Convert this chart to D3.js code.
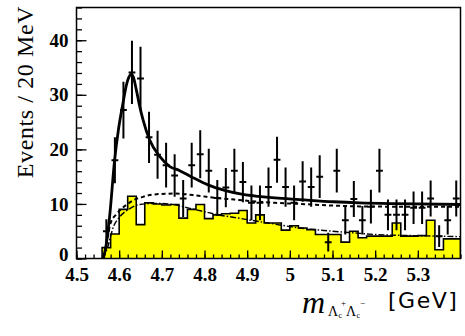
<!DOCTYPE html>
<html>
<head>
<meta charset="utf-8">
<script src="https://cdn.jsdelivr.net/npm/d3@7"></script>
<style>
body { margin: 0; background: #fff; }
svg { display: block; }
.axis text { font-family: "Liberation Serif", "Times New Roman", serif; font-weight: bold; font-size: 19px; fill: #000; }
.axis line { stroke: #000; stroke-width: 1.3; }
.axis path { display: none; }
</style>
</head>
<body>
<svg id="chart" width="465" height="336"></svg>
<script>
// 20 MeV bins, first bin starts at 4.56 GeV
var binStart = 4.56;
var binWidth = 0.02;

// data points (events per bin) and their error bars
var dataCounts = [5, 18, 27.2, 34.1, 33, 22.2, 19, 17.1, 15.2, 11, 17.1, 19.1, 16.1, 11.1, 13,
  16.1, 14, 10.2, 10.2, 13.1, 18.1, 13.1, 10.2, 14.1, 13.1, 15, 3, 16.1, 7, 10.9, 7, 9.5,
  16.1, 8, 8, 8, 9.3, 9.3, 11, 4.1, 7, 11];
var dataErrors = [2.2, 4.2, 5.2, 5.8, 5.8, 4.7, 4.4, 4.1, 3.9, 3.4, 4.1, 4.4, 4, 3.3, 3.6,
  4, 3.7, 3.2, 3.2, 3.6, 4.2, 3.6, 3.2, 3.7, 3.6, 3.9, 1.7, 4, 2.6, 3.3, 2.6, 3.1,
  4, 2.8, 2.8, 2.8, 3, 3, 3.3, 2, 2.6, 3.3];

// yellow histogram (same binning)
var bkgHist = [2, 4.5, 9, 11.4, 6.2, 10.2, 10, 9.8, 9.9, 7.4, 9, 9.9, 7.3, 8, 8.2,
  8.3, 8.8, 6.5, 8, 6.5, 6.5, 5.2, 6, 5.6, 5.3, 4.4, 4.4, 4.4, 3, 5, 3.8, 4.1,
  4.1, 4.1, 6.5, 4.1, 4.1, 4.2, 7, 1.6, 3.6, 3.6];

// fit curves: [mass, events]
var totalFit = [[4.562, 0], [4.568, 1.8], [4.578, 8], [4.589, 17.8], [4.599, 24], [4.609, 28.5],
  [4.617, 31.8], [4.623, 33.3], [4.628, 33.8], [4.633, 33.3], [4.64, 31], [4.647, 28.3],
  [4.656, 25.4], [4.671, 21.8], [4.695, 18.7], [4.718, 16.9], [4.742, 16.1], [4.769, 15],
  [4.808, 13.5], [4.847, 12.5], [4.887, 11.8], [4.926, 11.4], [4.965, 11.1], [5.023, 10.8],
  [5.102, 10.4], [5.164, 10.2], [5.25, 10.05], [5.4, 9.9]];
var bkgFit = [[4.564, 0], [4.572, 3.5], [4.58, 6.5], [4.592, 8], [4.604, 9], [4.62, 10],
  [4.636, 10.8], [4.656, 11.3], [4.676, 11.7], [4.731, 11.9], [4.786, 11.5], [4.825, 11.1],
  [4.87, 10.8], [4.926, 10.4], [4.965, 10.2], [5.023, 10], [5.1, 9.7], [5.164, 9.55],
  [5.25, 9.5], [5.4, 9.5]];
var sideFit = [[4.562, 0], [4.571, 1.6], [4.587, 5.9], [4.602, 7.7], [4.622, 9], [4.648, 9.9],
  [4.687, 10.1], [4.734, 9.8], [4.77, 9.1], [4.81, 8.4], [4.832, 8], [4.872, 7.5],
  [4.91, 7], [4.949, 6.5], [5.023, 5.6], [5.1, 5], [5.149, 4.7], [5.2, 4.4], [5.29, 4.2],
  [5.4, 4]];

var xTicks = [4.5, 4.6, 4.7, 4.8, 4.9, 5, 5.1, 5.2, 5.3];
var yTicks = [0, 10, 20, 30, 40];

var svg = d3.select("#chart");
var x = d3.scaleLinear().domain([4.5, 5.4]).range([76.5, 460.5]);
var y = d3.scaleLinear().domain([0, 46]).range([258.5, 7.5]);

svg.append("defs").append("clipPath").attr("id", "plotclip")
  .append("rect").attr("x", x(4.5)).attr("y", y(46))
  .attr("width", x(5.4) - x(4.5)).attr("height", y(0) - y(46));

var plot = svg.append("g").attr("clip-path", "url(#plotclip)");

// yellow histogram as a step outline
var histPts = [[binStart, 0]];
bkgHist.forEach(function(v, i) {
  histPts.push([binStart + i * binWidth, v]);
  histPts.push([binStart + (i + 1) * binWidth, v]);
});
histPts.push([binStart + bkgHist.length * binWidth, 0]);

var line = d3.line().x(function(d) { return x(d[0]); }).y(function(d) { return y(d[1]); });

plot.append("path").datum(histPts)
  .attr("d", line)
  .attr("fill", "#ffff00")
  .attr("stroke", "#000")
  .attr("stroke-width", 1.6);

var smooth = d3.line().curve(d3.curveMonotoneX)
  .x(function(d) { return x(d[0]); }).y(function(d) { return y(d[1]); });

plot.append("path").datum(sideFit).attr("d", smooth)
  .attr("fill", "none").attr("stroke", "#000").attr("stroke-width", 1.4)
  .attr("stroke-dasharray", "6,2,1.5,2");

plot.append("path").datum(bkgFit).attr("d", smooth)
  .attr("fill", "none").attr("stroke", "#000").attr("stroke-width", 2)
  .attr("stroke-dasharray", "4,3");

plot.append("path").datum(totalFit).attr("d", smooth)
  .attr("fill", "none").attr("stroke", "#000").attr("stroke-width", 2.8);

// data points with error bars
var pts = plot.append("g").selectAll("g").data(dataCounts).join("g");
pts.append("line")
  .attr("x1", function(d, i) { return x(binStart + (i + 0.5) * binWidth); })
  .attr("x2", function(d, i) { return x(binStart + (i + 0.5) * binWidth); })
  .attr("y1", function(d, i) { return y(d - dataErrors[i]); })
  .attr("y2", function(d, i) { return y(d + dataErrors[i]); })
  .attr("stroke", "#000").attr("stroke-width", 2);
pts.append("line")
  .attr("x1", function(d, i) { return x(binStart + (i + 0.1) * binWidth); })
  .attr("x2", function(d, i) { return x(binStart + (i + 0.9) * binWidth); })
  .attr("y1", function(d) { return y(d); })
  .attr("y2", function(d) { return y(d); })
  .attr("stroke", "#000").attr("stroke-width", 2);

// axes with inward ticks
var xMinor = d3.range(0, 46).map(function(i) { return 4.5 + i * 0.02; });
var yMinor = d3.range(0, 24).map(function(i) { return i * 2; });

svg.append("g").attr("class", "axis").attr("transform", "translate(0," + y(0) + ")")
  .call(d3.axisBottom(x).tickValues(xMinor).tickSize(-4).tickFormat(""));
svg.append("g").attr("class", "axis").attr("transform", "translate(0," + y(0) + ")")
  .call(d3.axisBottom(x).tickValues(xTicks).tickSize(-8).tickPadding(9).tickFormat(d3.format("")));
svg.append("g").attr("class", "axis").attr("transform", "translate(" + x(4.5) + ",0)")
  .call(d3.axisLeft(y).tickValues(yMinor).tickSize(-5.5).tickFormat(""));
var yAx = svg.append("g").attr("class", "axis").attr("transform", "translate(" + x(4.5) + ",0)")
  .call(d3.axisLeft(y).tickValues(yTicks).tickSize(-10).tickPadding(8));
// lift the "0" a little so it clears the "4.5" below it
yAx.selectAll(".tick text").filter(function(d) { return d === 0; }).attr("dy", "0.1em");

// frame
svg.append("rect").attr("x", x(4.5)).attr("y", y(46))
  .attr("width", x(5.4) - x(4.5)).attr("height", y(0) - y(46))
  .attr("fill", "none").attr("stroke", "#000").attr("stroke-width", 1.5);

// y title
svg.append("text")
  .attr("transform", "translate(33,92) rotate(-90)")
  .attr("text-anchor", "middle")
  .style("font-family", "'Liberation Serif', 'Times New Roman', serif")
  .style("font-size", "24px")
  .style("letter-spacing", "0.6px")
  .text("Events / 20 MeV");

// x title
var serif = "'Liberation Serif', 'Times New Roman', serif";
var xt = svg.append("text").style("font-family", serif);
xt.append("tspan").attr("x", 302).attr("y", 313).style("font-style", "italic").style("font-size", "32px").text("m");
xt.append("tspan").attr("x", 328).attr("y", 316).style("font-size", "14px").text("Λ");
xt.append("tspan").attr("x", 338.5).attr("y", 318).style("font-size", "8px").text("c");
xt.append("tspan").attr("x", 341).attr("y", 306).style("font-size", "9px").text("+");
xt.append("tspan").attr("x", 346).attr("y", 316).style("font-size", "14px").text("Λ");
xt.append("tspan").attr("x", 356.5).attr("y", 318).style("font-size", "8px").text("c");
xt.append("tspan").attr("x", 360).attr("y", 306).style("font-size", "9px").text("−");
svg.append("text").attr("x", 388).attr("y", 308)
  .style("font-family", "'DejaVu Sans', Verdana, sans-serif")
  .style("font-size", "22px")
  .style("letter-spacing", "1.5px")
  .text("[GeV]");
</script>
</body>
</html>
